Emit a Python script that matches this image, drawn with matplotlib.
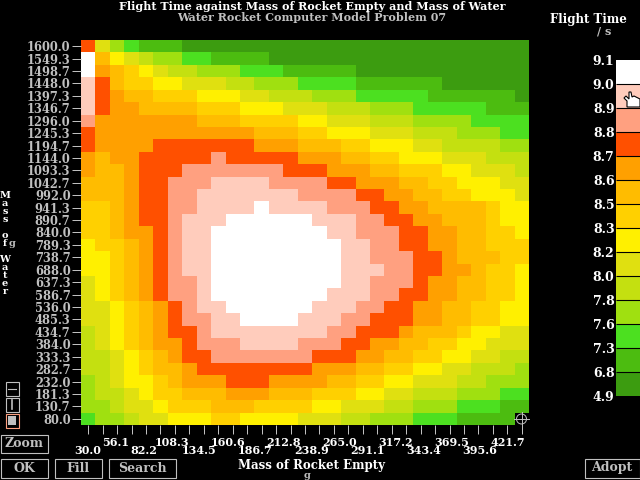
import matplotlib
matplotlib.use("Agg")
import matplotlib.pyplot as plt
import numpy as np
from matplotlib.colors import BoundaryNorm, ListedColormap
from matplotlib.patches import Circle, Polygon, Rectangle

# flight time band of each cell, top row (1600 g water) first, 0 = lowest band, D = highest
band_rows = [
    "A532111000000000000000000000000",
    "D865433221111000000000000000000",
    "D987654433322211111000000000000",
    "CA87766555443332222111111000000",
    "CA98877766655444333222221111110",
    "CA99888877766655544433322222111",
    "B999999988877776655544433332222",
    "A999999999998887766655544433322",
    "A9999AAAAAAA9998887766655444433",
    "9899AAAAABAAAAA9998877666555444",
    "9889AAABBBBBBBAAA99988777665554",
    "8889AABBBCCCCBBBBAA999887766655",
    "8889AABBCCCCCCCBBBBAA9988776665",
    "7789AABBCCCCDCCCCBBBAA998888766",
    "7789AABCCCDDDDDDCCCBBAA99888766",
    "77899ABCCDDDDDDDDCCBBBAA9988776",
    "67789ABCCDDDDDDDDDCCBBAA9988777",
    "66789ABCCDDDDDDDDDCCBBBAA988877",
    "66789ABCCDDDDDDDDDCCCBBAA998776",
    "56789ABBCDDDDDDDDDCCBBBA9988776",
    "56789ABBCDDDDDDDDCCCBBAA9988776",
    "556789ABCCDDDDDDCCCBBAA99887766",
    "556789ABBCCDDDDCCCBBAAA99887766",
    "456789AABCCCCCCCCBBAAA988876655",
    "4567899ABBBCCCCBBBAA99887766555",
    "4456789AABBBBBBBAAA998877665544",
    "44567889AAAAAAAA999887766554443",
    "3456678999AAA999988776655544333",
    "3445677888999888777665544433322",
    "3345567778887777665554433322211",
    "2334556667766665554433322211111",
]

band_edges = [4.9, 6.8, 7.3, 7.6, 7.8, 8.0, 8.2, 8.3, 8.5, 8.6, 8.7, 8.8, 8.9, 9.0, 9.1]
band_colors = ["#3c9c10", "#4cbc10", "#4ce020", "#a0e010", "#c4e010", "#e0e010", "#fff000",
               "#ffd000", "#ffbc00", "#ffa000", "#ff5000", "#ffa080", "#ffccbc", "#ffffff"]
band_labels = ["4.9", "6.8", "7.3", "7.6", "7.8", "8.0", "8.2", "8.3", "8.5", "8.6", "8.7", "8.8", "8.9", "9.0", "9.1"]

water_labels = ["1600.0", "1549.3", "1498.7", "1448.0", "1397.3", "1346.7", "1296.0", "1245.3",
                "1194.7", "1144.0", "1093.3", "1042.7", "992.0", "941.3", "890.7", "840.0",
                "789.3", "738.7", "688.0", "637.3", "586.7", "536.0", "485.3", "434.7",
                "384.0", "333.3", "282.7", "232.0", "181.3", "130.7", "80.0"]
empty_labels = ["30.0", "56.1", "82.2", "108.3", "134.5", "160.6", "186.7", "212.8",
                "238.9", "265.0", "291.1", "317.2", "343.4", "369.5", "395.6", "421.7"]

FONT = dict(family="DejaVu Serif", fontweight="bold")
GREY = "#c0c0c0"
W, H = 640, 480


def px_axes(fig, x0, y0, x1, y1):
    return fig.add_axes([x0 / W, 1 - y1 / H, (x1 - x0) / W, (y1 - y0) / H])


index = np.array([[int(c, 16) for c in r] for r in band_rows])
mids = (np.array(band_edges[:-1]) + np.array(band_edges[1:])) / 2
flight_time = mids[index]

fig = plt.figure(figsize=(6.4, 4.8), dpi=100, facecolor="black")

# main map
ax = px_axes(fig, 81, 40, 529, 425)
ax.set_facecolor("black")
cmap = ListedColormap(band_colors)
norm = BoundaryNorm(band_edges, cmap.N)
ax.pcolormesh(np.arange(32), np.arange(32), flight_time, cmap=cmap, norm=norm)
ax.set_xlim(0, 31)
ax.set_ylim(31, 0)
for side in ax.spines.values():
    side.set_visible(False)
ax.set_xticks(np.arange(31) + 0.5)
ax.set_xticklabels([])
ax.set_yticks(np.arange(31) + 0.5)
ax.set_yticklabels(water_labels, color="white", fontsize=8.3, **FONT)
ax.tick_params(axis="x", colors=GREY, length=6.5, width=0.72)
ax.tick_params(axis="y", colors=GREY, length=6.5, width=0.72, pad=1)

# colour key
key = px_axes(fig, 616, 60, 640, 396)
key.pcolormesh([0, 1], np.arange(15), mids.reshape(-1, 1), cmap=cmap, norm=norm)
key.hlines(np.arange(1, 14), 0, 1, color="black", lw=0.8)
key.set_xlim(0, 1)
key.set_ylim(0, 14)
key.set_xticks([])
key.set_yticks(np.arange(15))
key.set_yticklabels(band_labels, color="white", fontsize=9, **FONT)
key.tick_params(axis="y", length=0, pad=1)
for side in key.spines.values():
    side.set_visible(False)

# everything else is placed in screen pixels
ui = fig.add_axes([0, 0, 1, 1], facecolor="none")
ui.set_xlim(0, W)
ui.set_ylim(H, 0)
ui.axis("off")


def label(x, y, s, color="white", ha="center", size=8):
    ui.text(x, y, s, color=color, ha=ha, va="center", fontsize=size, **FONT)


label(312, 6, "Flight Time against Mass of Rocket Empty and Mass of Water", size=8)
label(312, 17.5, "Water Rocket Computer Model Problem 07", color=GREY, size=8)
label(588, 19, "Flight Time", size=8.5)
label(604, 31, "/ s", color=GREY, size=8)
label(312, 465, "Mass of Rocket Empty", size=8.5)
label(307, 475.5, "g", color=GREY, size=7)

for i, text in enumerate(empty_labels):
    label(87.5 + 28 * i, 451 if i % 2 == 0 else 443, text, size=8)

for ch, y in zip("MassofWater", [195, 204, 212, 220, 236, 244, 259, 267, 275, 283, 291]):
    label(5, y, ch, size=7)
label(12, 244, "g", color=GREY, size=7)

for x0, y0, x1, y1, name in [(0, 434, 48, 453, "Zoom"), (0, 458, 48, 478, "OK"), (54, 458, 102, 478, "Fill"),
                             (108, 458, 176, 478, "Search"), (584, 458, 640, 478, "Adopt")]:
    ui.add_patch(Rectangle((x0 + 0.5, y0 + 0.5), x1 - x0 - 1, y1 - y0 - 1, fc="none", ec=GREY, lw=0.8))
    label((x0 + x1) / 2, (y0 + y1) / 2, name, color=GREY, size=9)

# small mode icons
ui.add_patch(Rectangle((5.5, 381.5), 13, 14, fc="none", ec=GREY, lw=0.8))
ui.plot([8, 16], [388.5, 388.5], color=GREY, lw=0.8)
ui.add_patch(Rectangle((5.5, 397.5), 13, 14, fc="none", ec=GREY, lw=0.8))
ui.plot([12, 12], [400, 409], color=GREY, lw=1.2)
ui.add_patch(Rectangle((5.5, 413.5), 13, 14, fc="none", ec="#ffa080", lw=0.8))
ui.add_patch(Rectangle((8, 416), 8, 9, fc=GREY, ec="none"))

# crosshair cursor
ui.add_patch(Rectangle((515, 413), 14, 12, fc="black", ec="none"))
ui.add_patch(Circle((521.5, 419), 5, fc="none", ec=GREY, lw=0.7))
ui.plot([521.5, 521.5], [412, 433], color=GREY, lw=0.7)
ui.plot([514, 529], [419, 419], color=GREY, lw=0.7)

# hand pointer over the key
hand = [(627, 107), (627, 101), (624, 98), (626, 96), (629, 99), (629, 92), (631, 92), (632, 97),
        (634, 96), (636, 97), (638, 98), (640, 99), (640, 107)]
ui.add_patch(Polygon(hand, fc="white", ec="black", lw=0.8))

fig.savefig("out.png", dpi=100, facecolor="black")
